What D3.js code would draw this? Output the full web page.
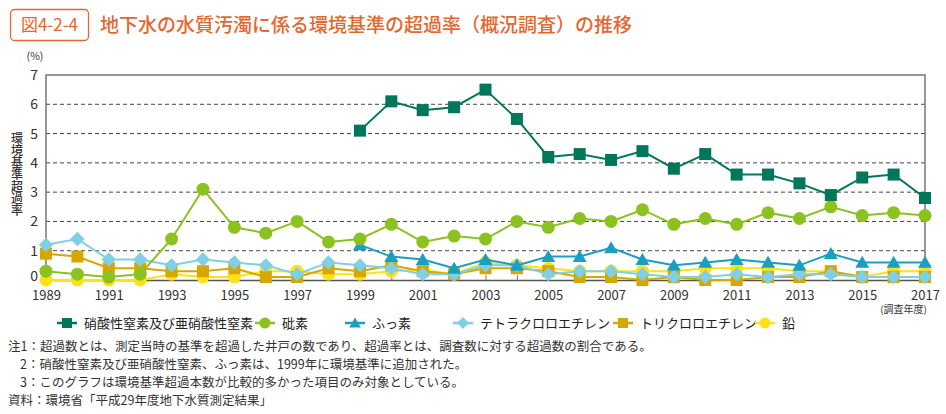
<!DOCTYPE html>
<html><head><meta charset="utf-8">
<script src="https://cdn.jsdelivr.net/npm/d3@7"></script>
<style>
body{margin:0;background:#fff;}
svg text{font-family:"Noto Sans CJK JP","Noto Sans",sans-serif;}
</style></head>
<body><svg id="c" width="946" height="414"></svg>
<script>
const years = d3.range(1989, 2018);
const yTicks = [0,1,2,3,4,5,6,7];
const xTickLabels = [1989,1991,1993,1995,1997,1999,2001,2003,2005,2007,2009,2011,2013,2015,2017];
const seriesNames = ["硝酸性窒素及び亜硝酸性窒素","砒素","ふっ素","テトラクロロエチレン","トリクロロエチレン","鉛"];
const nitrate = [null,null,null,null,null,null,null,null,null,null,5.1,6.1,5.8,5.9,6.5,5.5,4.2,4.3,4.1,4.4,3.8,4.3,3.6,3.6,3.3,2.9,3.5,3.6,2.8];
const arsenic = [0.3,0.2,0.1,0.2,1.4,3.1,1.8,1.6,2.0,1.3,1.4,1.9,1.3,1.5,1.4,2.0,1.8,2.1,2.0,2.4,1.9,2.1,1.9,2.3,2.1,2.5,2.2,2.3,2.2];
const fluorine = [null,null,null,null,null,null,null,null,null,null,1.2,0.8,0.7,0.4,0.7,0.5,0.8,0.8,1.1,0.7,0.5,0.6,0.7,0.6,0.5,0.9,0.6,0.6,0.6];
const tetra = [1.2,1.4,0.7,0.7,0.5,0.7,0.6,0.5,0.2,0.6,0.5,0.4,0.2,0.2,0.5,0.5,0.2,0.3,0.3,0.2,0.1,0.1,0.2,0.1,0.2,0.2,0.1,0.1,0.1];
const trichloro = [0.9,0.8,0.4,0.4,0.3,0.3,0.4,0.1,0.1,0.4,0.3,0.5,0.3,0.2,0.4,0.4,0.3,0.1,0.1,0.0,0.1,0.0,0.0,0.1,0.1,0.3,0.1,0.1,0.1];
const lead = [0,0,0,0,0.2,0.1,0.1,0.3,0.3,0.2,0.2,0.3,0.35,0.2,0.6,0.5,0.4,0.3,0.3,0.3,0.3,0.4,0.4,0.4,0.3,0.3,0.1,0.3,0.3];

const seriesValues = [nitrate, arsenic, fluorine, tetra, trichloro, lead];
const colors = ["#00765a","#8cc21f","#1a9fc2","#80cfe2","#d6a700","#ffe11a"];
const lineColors = ["#00765a","#8cc21f","#1a9fc2","#80cfe2","#d6a700","#ffe11a"];
const shapes = ["square","circle","triangle","diamond","square","circle"];

const svg = d3.select("#c");
const orange = "#e3672f";

// title
svg.append("rect").attr("x",10.5).attr("y",9.5).attr("width",78).attr("height",31).attr("rx",4)
  .attr("fill","#fff").attr("stroke",orange).attr("stroke-width",1.3);
svg.append("text").attr("x",49.5).attr("y",31).attr("text-anchor","middle").attr("fill",orange)
  .attr("font-size",17).text("図4-2-4");
svg.append("text").attr("x",100).attr("y",32).attr("fill",orange).attr("font-size",19)
  .attr("font-weight",500).text("地下水の水質汚濁に係る環境基準の超過率（概況調査）の推移");

const x = d3.scaleLinear().domain([1989,2017]).range([46,925]);
const y = d3.scaleLinear().domain([0,7]).range([280,75]);

// grid
svg.append("g").selectAll("line").data(yTicks.filter(d=>d>0 && d<7)).join("line")
  .attr("x1",46).attr("x2",925).attr("y1",d=>y(d)).attr("y2",d=>y(d))
  .attr("stroke","#444").attr("stroke-width",1).attr("stroke-dasharray","4,3");

// frame
svg.append("path").attr("d",`M46,${y(0)}V${y(7)}H925V${y(0)}`).attr("fill","none")
  .attr("stroke","#777").attr("stroke-width",1.5);

// y axis
const yAxis = d3.axisLeft(y).tickValues(yTicks).tickFormat(d3.format("d")).tickSize(0).tickPadding(8);
const gy = svg.append("g").attr("transform","translate(46,0)").call(yAxis);
gy.select(".domain").remove();
gy.selectAll("text").attr("font-size",14).attr("fill","#333");
gy.selectAll(".tick").filter(d=>d===0).select("text").attr("dy","0.05em");
svg.append("text").attr("x",35).attr("y",60).attr("text-anchor","middle").attr("font-size",10.5).attr("fill","#333").text("(%)");

// y label vertical
svg.append("text").attr("x",17).attr("y",174).attr("text-anchor","middle")
  .style("writing-mode","vertical-rl").attr("font-size",12).attr("fill","#333").attr("font-weight",500)
  .text("環境基準超過率");

// x axis
const xAxis = d3.axisBottom(x).tickValues(years).tickSizeInner(-5).tickSizeOuter(0)
  .tickFormat(d=>xTickLabels.includes(d)?d:"").tickPadding(11);
const gx = svg.append("g").attr("transform",`translate(0,${y(0)})`).call(xAxis);
gx.select(".domain").attr("stroke","#555").attr("stroke-width",1.5);
gx.selectAll(".tick line").attr("stroke","#777");
gx.selectAll("text").attr("font-size",13).attr("fill","#333");
svg.append("text").attr("x",927).attr("y",313).attr("text-anchor","end").attr("font-size",10).attr("fill","#333").text("(調査年度)");

function marker(g, shape, color, s){
  if(shape==="square") g.append("rect").attr("x",-s/2).attr("y",-s/2).attr("width",s).attr("height",s).attr("fill",color);
  else if(shape==="circle") g.append("circle").attr("r",s/2).attr("fill",color);
  else if(shape==="triangle") g.append("path").attr("d",`M0,${-s*0.55}L${s*0.58},${s*0.45}L${-s*0.58},${s*0.45}Z`).attr("fill",color);
  else if(shape==="diamond") g.append("path").attr("d",`M0,${-s*0.6}L${s*0.6},0L0,${s*0.6}L${-s*0.6},0Z`).attr("fill",color);
}

const line = d3.line().defined(d=>d.v!==null).x(d=>x(d.yr)).y(d=>y(d.v));
const order = [5,4,3,2,1,0];
order.forEach(i=>{
  const data = years.map((yr,j)=>({yr, v: seriesValues[i][j]}));
  const g = svg.append("g");
  g.append("path").datum(data).attr("d",line).attr("fill","none").attr("stroke",lineColors[i]).attr("stroke-width",2);
  data.filter(d=>d.v!==null).forEach(d=>{
    const m = g.append("g").attr("transform",`translate(${x(d.yr)},${y(d.v)})`);
    marker(m, shapes[i], colors[i], shapes[i]==="circle"?13:12);
  });
});

// legend
const legX = [67,265,355,463,623,765];
seriesNames.forEach((n,i)=>{
  const g = svg.append("g").attr("transform",`translate(${legX[i]},323)`);
  g.append("line").attr("x1",-10).attr("x2",10).attr("stroke",lineColors[i]).attr("stroke-width",2.5);
  marker(g, shapes[i], colors[i], shapes[i]==="circle"?11:10);
  g.append("text").attr("x",17).attr("y",5).attr("font-size",13).attr("fill","#222").text(n);
});

// notes
const notes = [
  [8,"注1：超過数とは、測定当時の基準を超過した井戸の数であり、超過率とは、調査数に対する超過数の割合である。"],
  [20,"2：硝酸性窒素及び亜硝酸性窒素、ふっ素は、1999年に環境基準に追加された。"],
  [20,"3：このグラフは環境基準超過本数が比較的多かった項目のみ対象としている。"],
  [8,"資料：環境省「平成29年度地下水質測定結果」"]
];
notes.forEach((n,i)=>{
  svg.append("text").attr("x",n[0]).attr("y",351+i*18).attr("font-size",12.5).attr("fill","#333").text(n[1]);
});
</script></body></html>
